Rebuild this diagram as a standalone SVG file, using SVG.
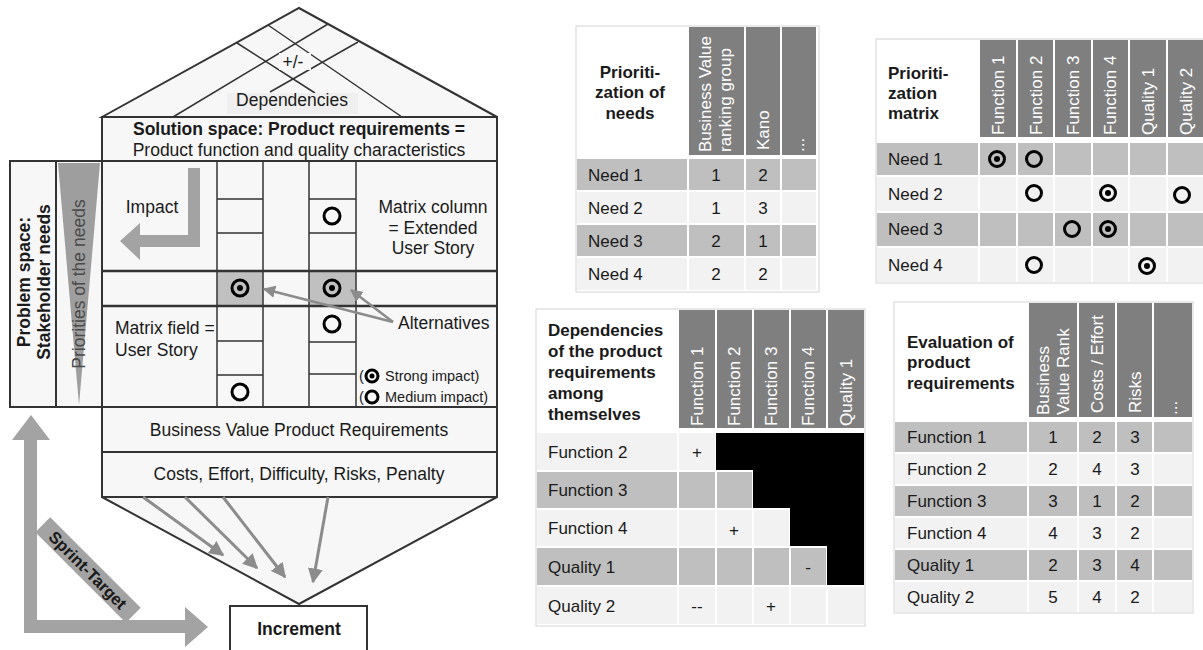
<svg xmlns="http://www.w3.org/2000/svg" width="1203" height="650" viewBox="0 0 1203 650">
<defs>
<style>
.t{font-family:"Liberation Sans",Arial,sans-serif;font-size:17.5px;fill:#1a1a1a}
.tb{font-family:"Liberation Sans",Arial,sans-serif;font-size:17px;fill:#1a1a1a}
.b{font-weight:bold}
.m{text-anchor:middle}
.w{fill:#fff}
.ln{stroke:#333;stroke-width:1.5;fill:none}
.box{fill:#f7f7f7;stroke:#333;stroke-width:2}
.hd{fill:#7f7f7f}
.dk{fill:#bfbfbf}
.lt{fill:#f2f2f2}
.blk{fill:#000}
.ring{fill:none;stroke:#000;stroke-width:3}
.dot{fill:#000}
.arr{stroke:#8c8c8c;stroke-width:3;fill:none;marker-end:url(#ah)}
.gray{fill:#a3a3a3}
</style>
<marker id="ah" viewBox="0 0 10 10" refX="9" refY="5" markerWidth="5" markerHeight="5" orient="auto"><path d="M0,0 L10,5 L0,10 z" fill="#8c8c8c"/></marker>
</defs>
<rect width="1203" height="650" fill="#fff"/>

<g id="roof">
<polygon points="102,117 299,8 497,117" class="box" stroke-width="1.5"/>
<line x1="328" y1="24" x2="173" y2="117" class="ln"/>
<line x1="358" y1="42" x2="270" y2="92" class="ln"/>
<line x1="268" y1="25" x2="402" y2="117" class="ln"/>
<line x1="237" y1="43" x2="315" y2="93" class="ln"/>
<rect x="279" y="53" width="32" height="17" fill="#f7f7f7"/>
<text x="293" y="68" class="t m">+/-</text>
<rect x="227" y="93" width="131" height="21" fill="#efefef"/>
<text x="292" y="106" class="t m">Dependencies</text>
</g>

<g id="solution-space">
<rect x="102" y="117" width="395" height="44" class="box"/>
<text x="299" y="135" class="t b m">Solution space: Product requirements =</text>
<text x="299" y="156" class="t m">Product function and quality characteristics</text>
</g>

<g id="problem-space">
<rect x="10" y="161" width="46" height="246" class="box"/>
<text transform="translate(30,282) rotate(-90)" class="t b m">Problem space:</text>
<text transform="translate(50,282) rotate(-90)" class="t b m">Stakeholder needs</text>
</g>

<g id="priorities">
<rect x="56" y="161" width="46" height="246" class="box"/>
<polygon points="58,163 100,163 79,405" fill="#9e9e9e"/>
<text transform="translate(85,284) rotate(-90)" class="t m" style="fill:#4a4a4a">Priorities of the needs</text>
</g>

<g id="matrix">
<rect x="102" y="161" width="395" height="246" class="box"/>
<rect x="217" y="271" width="46" height="35" fill="#c0c0c0"/>
<rect x="309" y="271" width="47" height="35" fill="#c0c0c0"/>
<line x1="217" y1="161" x2="217" y2="407" class="ln"/>
<line x1="263" y1="161" x2="263" y2="407" class="ln"/>
<line x1="309" y1="161" x2="309" y2="407" class="ln"/>
<line x1="356" y1="161" x2="356" y2="407" class="ln"/>
<path d="M217,199H263M309,199H356M217,233H263M309,233H356M217,341H263M309,342H356M217,375H263M309,374H356" class="ln"/>
<line x1="102" y1="271" x2="497" y2="271" stroke="#333" stroke-width="2.5"/>
<line x1="102" y1="306" x2="497" y2="306" stroke="#333" stroke-width="2.5"/>
<circle cx="332" cy="216" r="8" class="ring"/>
<circle cx="240" cy="288" r="8" class="ring"/><circle cx="240" cy="288" r="3" class="dot"/>
<circle cx="332" cy="288" r="8" class="ring"/><circle cx="332" cy="288" r="3" class="dot"/>
<circle cx="332" cy="324" r="8" class="ring"/>
<circle cx="240" cy="392" r="8" class="ring"/>
<polygon points="188,168 200,168 200,247 140,247 140,260 120,241 140,223 140,235 188,235" class="gray"/>
<text x="152" y="213" class="t m">Impact</text>
<text x="433" y="213" class="t m">Matrix column</text>
<text x="433" y="234" class="t m">= Extended</text>
<text x="433" y="254" class="t m">User Story</text>
<text x="115" y="334" class="t">Matrix field =</text>
<text x="115" y="356" class="t">User Story</text>
<text x="398" y="329" class="t">Alternatives</text>
<text x="359" y="381" class="t" style="font-size:14.5px">(</text>
<circle cx="372" cy="376" r="6" class="ring"/><circle cx="372" cy="376" r="2.5" class="dot"/>
<text x="385" y="381" class="t" style="font-size:14.5px">Strong impact)</text>
<text x="359" y="402" class="t" style="font-size:14.5px">(</text>
<circle cx="372" cy="397" r="6" class="ring"/>
<text x="385" y="402" class="t" style="font-size:14.5px">Medium impact)</text>
</g>

<g id="business-value">
<rect x="102" y="407" width="395" height="45" class="box"/>
<text x="299" y="436" class="t m">Business Value Product Requirements</text>
</g>
<g id="costs">
<rect x="102" y="452" width="395" height="45" class="box"/>
<text x="299" y="480" class="t m">Costs, Effort, Difficulty, Risks, Penalty</text>
</g>
<g id="funnel">
<polygon points="102,497 299,604 497,497" class="box" stroke-width="1.5"/>
</g>
<g id="increment">
<rect x="230" y="606" width="137" height="50" fill="#fff" stroke="#333" stroke-width="2"/>
<text x="299" y="635" class="t b m">Increment</text>
</g>

<g id="sprint-target">
<polygon points="24,440 12,440 31,415 50,440 37,440 37,620 185,620 185,607 208,627 185,647 185,633 24,633" class="gray"/>
<g transform="translate(88,570) rotate(45)">
<rect x="-64" y="-10.5" width="128" height="21" class="gray"/>
<text x="0" y="6" class="t b m" style="font-size:16.5px">Sprint-Target</text>
</g>
</g>

<g id="connectors">
<line x1="393" y1="322" x2="264" y2="289" stroke="#8c8c8c" stroke-width="2.5" marker-end="url(#ah)"/>
<line x1="393" y1="322" x2="351" y2="290" stroke="#8c8c8c" stroke-width="2.5" marker-end="url(#ah)"/>
<line x1="143" y1="497" x2="223" y2="555" class="arr"/>
<line x1="185" y1="497" x2="257" y2="568" class="arr"/>
<line x1="223" y1="497" x2="285" y2="577" class="arr"/>
<line x1="328" y1="497" x2="313" y2="582" class="arr"/>
</g>

<g id="tbl-needs">
<rect x="576" y="26" width="243" height="266" fill="#fff" stroke="#d4d4d4"/>
<rect x="689" y="27" width="55" height="128" class="hd"/>
<rect x="746" y="27" width="34" height="128" class="hd"/>
<rect x="782" y="27" width="34" height="128" class="hd"/>
<text x="630" y="78" class="tb b m">Prioriti-</text>
<text x="630" y="98" class="tb b m">zation of</text>
<text x="630" y="119" class="tb b m">needs</text>
<text transform="translate(711,152) rotate(-90)" class="tb w">Business Value</text>
<text transform="translate(731,152) rotate(-90)" class="tb w">ranking group</text>
<text transform="translate(769,150) rotate(-90)" class="tb w">Kano</text>
<text transform="translate(804,152) rotate(-90)" class="tb w">...</text>
<g class="dk"><rect x="577" y="159" width="110" height="31"/><rect x="689" y="159" width="55" height="31"/><rect x="746" y="159" width="34" height="31"/><rect x="782" y="159" width="34" height="31"/></g>
<g class="lt"><rect x="577" y="192" width="110" height="31"/><rect x="689" y="192" width="55" height="31"/><rect x="746" y="192" width="34" height="31"/><rect x="782" y="192" width="34" height="31"/></g>
<g class="dk"><rect x="577" y="225" width="110" height="31"/><rect x="689" y="225" width="55" height="31"/><rect x="746" y="225" width="34" height="31"/><rect x="782" y="225" width="34" height="31"/></g>
<g class="lt"><rect x="577" y="258" width="110" height="32"/><rect x="689" y="258" width="55" height="32"/><rect x="746" y="258" width="34" height="32"/><rect x="782" y="258" width="34" height="32"/></g>
<text x="588" y="181" class="tb">Need 1</text><text x="716" y="181" class="tb m">1</text><text x="763" y="181" class="tb m">2</text>
<text x="588" y="214" class="tb">Need 2</text><text x="716" y="214" class="tb m">1</text><text x="763" y="214" class="tb m">3</text>
<text x="588" y="247" class="tb">Need 3</text><text x="716" y="247" class="tb m">2</text><text x="763" y="247" class="tb m">1</text>
<text x="588" y="280" class="tb">Need 4</text><text x="716" y="280" class="tb m">2</text><text x="763" y="280" class="tb m">2</text>
</g>

<g id="tbl-matrix">
<rect x="876" y="39" width="340" height="244" fill="#fff" stroke="#d4d4d4"/>
<rect x="980" y="40" width="36" height="97" class="hd"/>
<rect x="1018" y="40" width="35" height="97" class="hd"/>
<rect x="1055" y="40" width="36" height="97" class="hd"/>
<rect x="1093" y="40" width="35" height="97" class="hd"/>
<rect x="1130" y="40" width="36" height="97" class="hd"/>
<rect x="1168" y="40" width="36" height="97" class="hd"/>
<text x="888" y="79" class="tb b">Prioriti-</text>
<text x="888" y="99" class="tb b">zation</text>
<text x="888" y="119" class="tb b">matrix</text>
<text transform="translate(1004,135) rotate(-90)" class="tb w">Function 1</text>
<text transform="translate(1042,135) rotate(-90)" class="tb w">Function 2</text>
<text transform="translate(1079,135) rotate(-90)" class="tb w">Function 3</text>
<text transform="translate(1116,135) rotate(-90)" class="tb w">Function 4</text>
<text transform="translate(1154,135) rotate(-90)" class="tb w">Quality 1</text>
<text transform="translate(1192,135) rotate(-90)" class="tb w">Quality 2</text>
<g class="dk"><rect x="877" y="143" width="101" height="32"/><rect x="980" y="143" width="36" height="32"/><rect x="1018" y="143" width="35" height="32"/><rect x="1055" y="143" width="36" height="32"/><rect x="1093" y="143" width="35" height="32"/><rect x="1130" y="143" width="36" height="32"/><rect x="1168" y="143" width="36" height="32"/></g>
<g class="lt"><rect x="877" y="177" width="101" height="34"/><rect x="980" y="177" width="36" height="34"/><rect x="1018" y="177" width="35" height="34"/><rect x="1055" y="177" width="36" height="34"/><rect x="1093" y="177" width="35" height="34"/><rect x="1130" y="177" width="36" height="34"/><rect x="1168" y="177" width="36" height="34"/></g>
<g class="dk"><rect x="877" y="213" width="101" height="33"/><rect x="980" y="213" width="36" height="33"/><rect x="1018" y="213" width="35" height="33"/><rect x="1055" y="213" width="36" height="33"/><rect x="1093" y="213" width="35" height="33"/><rect x="1130" y="213" width="36" height="33"/><rect x="1168" y="213" width="36" height="33"/></g>
<g class="lt"><rect x="877" y="248" width="101" height="34"/><rect x="980" y="248" width="36" height="34"/><rect x="1018" y="248" width="35" height="34"/><rect x="1055" y="248" width="36" height="34"/><rect x="1093" y="248" width="35" height="34"/><rect x="1130" y="248" width="36" height="34"/><rect x="1168" y="248" width="36" height="34"/></g>
<text x="888" y="165" class="tb">Need 1</text>
<text x="888" y="200" class="tb">Need 2</text>
<text x="888" y="235" class="tb">Need 3</text>
<text x="888" y="271" class="tb">Need 4</text>
<circle cx="997" cy="159" r="7.5" class="ring"/><circle cx="997" cy="159" r="3" class="dot"/>
<circle cx="1034" cy="159" r="7.5" class="ring"/>
<circle cx="1034" cy="193" r="7.5" class="ring"/>
<circle cx="1108" cy="193" r="7.5" class="ring"/><circle cx="1108" cy="193" r="3" class="dot"/>
<circle cx="1182" cy="195" r="7.5" class="ring"/>
<circle cx="1072" cy="229" r="7.5" class="ring"/>
<circle cx="1108" cy="229" r="7.5" class="ring"/><circle cx="1108" cy="229" r="3" class="dot"/>
<circle cx="1034" cy="265" r="7.5" class="ring"/>
<circle cx="1147" cy="266" r="7.5" class="ring"/><circle cx="1147" cy="266" r="3" class="dot"/>
</g>

<g id="tbl-dependencies">
<rect x="536" y="309" width="329" height="317" fill="#fff" stroke="#d4d4d4"/>
<rect x="679" y="310" width="36" height="118" class="hd"/>
<rect x="717" y="310" width="35" height="118" class="hd"/>
<rect x="754" y="310" width="35" height="118" class="hd"/>
<rect x="791" y="310" width="35" height="118" class="hd"/>
<rect x="828" y="310" width="36" height="118" class="hd"/>
<text x="548" y="336" class="tb b">Dependencies</text>
<text x="548" y="357" class="tb b">of the product</text>
<text x="548" y="378" class="tb b">requirements</text>
<text x="548" y="399" class="tb b">among</text>
<text x="548" y="420" class="tb b">themselves</text>
<text transform="translate(703,426) rotate(-90)" class="tb w">Function 1</text>
<text transform="translate(740,426) rotate(-90)" class="tb w">Function 2</text>
<text transform="translate(777,426) rotate(-90)" class="tb w">Function 3</text>
<text transform="translate(814,426) rotate(-90)" class="tb w">Function 4</text>
<text transform="translate(852,426) rotate(-90)" class="tb w">Quality 1</text>
<g class="lt"><rect x="537" y="433" width="140" height="37"/><rect x="679" y="433" width="36" height="37"/></g>
<g class="dk"><rect x="537" y="472" width="140" height="36"/><rect x="679" y="472" width="36" height="36"/><rect x="717" y="472" width="35" height="36"/></g>
<g class="lt"><rect x="537" y="510" width="140" height="36"/><rect x="679" y="510" width="36" height="36"/><rect x="717" y="510" width="35" height="36"/><rect x="754" y="510" width="35" height="36"/></g>
<g class="dk"><rect x="537" y="548" width="140" height="37"/><rect x="679" y="548" width="36" height="37"/><rect x="717" y="548" width="35" height="37"/><rect x="754" y="548" width="35" height="37"/><rect x="791" y="548" width="35" height="37"/></g>
<g class="lt"><rect x="537" y="587" width="140" height="37"/><rect x="679" y="587" width="36" height="37"/><rect x="717" y="587" width="35" height="37"/><rect x="754" y="587" width="35" height="37"/><rect x="791" y="587" width="35" height="37"/><rect x="828" y="587" width="36" height="37"/></g>
<path d="M716,433H864V585H827V546H790V508H753V470H716Z" class="blk"/>
<text x="548" y="458" class="tb">Function 2</text>
<text x="548" y="496" class="tb">Function 3</text>
<text x="548" y="534" class="tb">Function 4</text>
<text x="548" y="573" class="tb">Quality 1</text>
<text x="548" y="612" class="tb">Quality 2</text>
<text x="697" y="458" class="tb m">+</text>
<text x="734" y="536" class="tb m">+</text>
<text x="808" y="573" class="tb m">-</text>
<text x="697" y="612" class="tb m">--</text>
<text x="771" y="612" class="tb m">+</text>
</g>

<g id="tbl-evaluation">
<rect x="894" y="302" width="299" height="311" fill="#fff" stroke="#d4d4d4"/>
<rect x="1029" y="303" width="48" height="114" class="hd"/>
<rect x="1079" y="303" width="36" height="114" class="hd"/>
<rect x="1117" y="303" width="35" height="114" class="hd"/>
<rect x="1154" y="303" width="38" height="114" class="hd"/>
<text x="907" y="348" class="tb b">Evaluation of</text>
<text x="907" y="368" class="tb b">product</text>
<text x="907" y="389" class="tb b">requirements</text>
<text transform="translate(1049,415) rotate(-90)" class="tb w">Business</text>
<text transform="translate(1069,415) rotate(-90)" class="tb w">Value Rank</text>
<text transform="translate(1103,413) rotate(-90)" class="tb w">Costs / Effort</text>
<text transform="translate(1141,413) rotate(-90)" class="tb w">Risks</text>
<text transform="translate(1177,415) rotate(-90)" class="tb w">...</text>
<g class="dk"><rect x="895" y="422" width="132" height="30"/><rect x="1029" y="422" width="48" height="30"/><rect x="1079" y="422" width="36" height="30"/><rect x="1117" y="422" width="35" height="30"/><rect x="1154" y="422" width="38" height="30"/></g>
<g class="lt"><rect x="895" y="454" width="132" height="30"/><rect x="1029" y="454" width="48" height="30"/><rect x="1079" y="454" width="36" height="30"/><rect x="1117" y="454" width="35" height="30"/><rect x="1154" y="454" width="38" height="30"/></g>
<g class="dk"><rect x="895" y="486" width="132" height="30"/><rect x="1029" y="486" width="48" height="30"/><rect x="1079" y="486" width="36" height="30"/><rect x="1117" y="486" width="35" height="30"/><rect x="1154" y="486" width="38" height="30"/></g>
<g class="lt"><rect x="895" y="518" width="132" height="30"/><rect x="1029" y="518" width="48" height="30"/><rect x="1079" y="518" width="36" height="30"/><rect x="1117" y="518" width="35" height="30"/><rect x="1154" y="518" width="38" height="30"/></g>
<g class="dk"><rect x="895" y="550" width="132" height="30"/><rect x="1029" y="550" width="48" height="30"/><rect x="1079" y="550" width="36" height="30"/><rect x="1117" y="550" width="35" height="30"/><rect x="1154" y="550" width="38" height="30"/></g>
<g class="lt"><rect x="895" y="582" width="132" height="30"/><rect x="1029" y="582" width="48" height="30"/><rect x="1079" y="582" width="36" height="30"/><rect x="1117" y="582" width="35" height="30"/><rect x="1154" y="582" width="38" height="30"/></g>
<text x="907" y="443" class="tb">Function 1</text><text x="1053" y="443" class="tb m">1</text><text x="1097" y="443" class="tb m">2</text><text x="1135" y="443" class="tb m">3</text>
<text x="907" y="475" class="tb">Function 2</text><text x="1053" y="475" class="tb m">2</text><text x="1097" y="475" class="tb m">4</text><text x="1135" y="475" class="tb m">3</text>
<text x="907" y="507" class="tb">Function 3</text><text x="1053" y="507" class="tb m">3</text><text x="1097" y="507" class="tb m">1</text><text x="1135" y="507" class="tb m">2</text>
<text x="907" y="539" class="tb">Function 4</text><text x="1053" y="539" class="tb m">4</text><text x="1097" y="539" class="tb m">3</text><text x="1135" y="539" class="tb m">2</text>
<text x="907" y="571" class="tb">Quality 1</text><text x="1053" y="571" class="tb m">2</text><text x="1097" y="571" class="tb m">3</text><text x="1135" y="571" class="tb m">4</text>
<text x="907" y="603" class="tb">Quality 2</text><text x="1053" y="603" class="tb m">5</text><text x="1097" y="603" class="tb m">4</text><text x="1135" y="603" class="tb m">2</text>
</g>
</svg>
